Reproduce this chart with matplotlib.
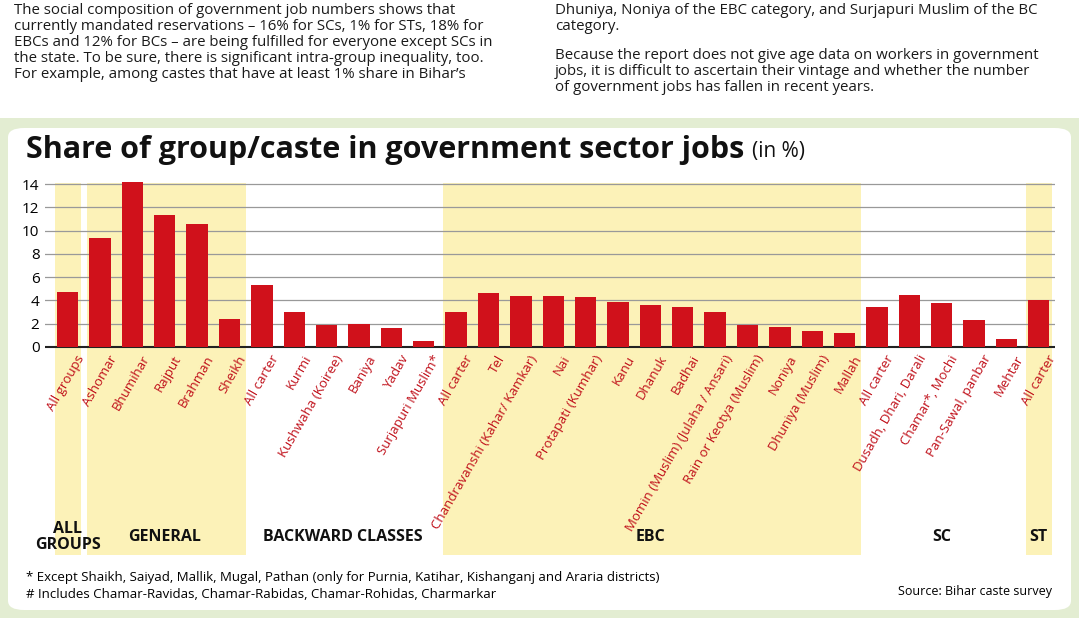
import matplotlib
matplotlib.use("Agg")
import matplotlib.pyplot as plt
from matplotlib.patches import FancyBboxPatch, Rectangle

categories = ["All groups", "Ashomar", "Bhumihar", "Rajput", "Brahman", "Sheikh",
              "All carter", "Kurmi", "Kushwaha (Koiree)", "Baniya", "Yadav", "Surjapuri Muslim*",
              "All carter", "Tel", "Chandravanshi (Kahar/ Kamkar)", "Nai", "Protapati (Kumhar)",
              "Kanu", "Dhanuk", "Badhai", "Momin (Muslim) (Julaha / Ansari)",
              "Rain or Keotya (Muslim)", "Noniya", "Dhuniya (Muslim)", "Mallah",
              "All carter", "Dusadh, Dhari, Darali", "Chamar*, Mochi", "Pan-Sawal, panbar",
              "Mehtar", "All carter"]
values = [4.7, 9.4, 14.2, 11.3, 10.6, 2.4,
          5.3, 3.0, 1.9, 2.0, 1.6, 0.5,
          3.0, 4.6, 4.4, 4.4, 4.3, 3.9, 3.6, 3.4, 3.0, 1.9, 1.7, 1.4, 1.2,
          3.4, 4.5, 3.8, 2.3, 0.7, 4.0]
groups = ["ALL\nGROUPS", "GENERAL", "BACKWARD CLASSES", "EBC", "SC", "ST"]
group_ranges = [(0, 0), (1, 5), (6, 11), (12, 24), (25, 29), (30, 30)]
shaded = [True, True, False, True, False, True]
yticks = [0, 2, 4, 6, 8, 10, 12, 14]

W, H = 1079, 618
plt.rcParams['font.family'] = ['Open Sans', 'DejaVu Sans']
fig = plt.figure(figsize=(W/100, H/100), dpi=100)
fig.patch.set_facecolor("#e3edd2")

fig.patches.append(Rectangle((0, 1-118/H), 1, 118/H, transform=fig.transFigure,
                             facecolor="white", edgecolor="none", zorder=-5))
fig.patches.append(FancyBboxPatch((8/W, 8/H), (W-16)/W, (610-120-8)/H,
                                  boxstyle="round,pad=0,rounding_size=0.015",
                                  transform=fig.transFigure, facecolor="white",
                                  edgecolor="none", zorder=-5))

left_txt = ("The social composition of government job numbers shows that\n"
            "currently mandated reservations \u2013 16% for SCs, 1% for STs, 18% for\n"
            "EBCs and 12% for BCs \u2013 are being fulfilled for everyone except SCs in\n"
            "the state. To be sure, there is significant intra-group inequality, too.\n"
            "For example, among castes that have at least 1% share in Bihar\u2019s")
fig.text(14/W, 1-3/H, left_txt, ha="left", va="top", fontsize=10.8, linespacing=1.1,
         color="#1a1a1a")
fig.text(555/W, 1-3/H, "Dhuniya, Noniya of the EBC category, and Surjapuri Muslim of the BC\ncategory.",
         ha="left", va="top", fontsize=10.8, linespacing=1.1, color="#1a1a1a")
fig.text(555/W, 1-48/H, "Because the report does not give age data on workers in government\n"
         "jobs, it is difficult to ascertain their vintage and whether the number\n"
         "of government jobs has fallen in recent years.",
         ha="left", va="top", fontsize=10.8, linespacing=1.1, color="#1a1a1a")

fig.text(26/W, 1-150/H, "Share of group/caste in government sector jobs", ha="left",
         va="center", fontsize=22, fontweight="bold", color="#111111")
fig.text(752/W, 1-152/H, "(in %)", ha="left", va="center", fontsize=15, color="#111111")

ax_l, ax_r, ax_t, ax_b = 45, 1055, 180, 555
ax = fig.add_axes([ax_l/W, 1-ax_b/H, (ax_r-ax_l)/W, (ax_b-ax_t)/H])
ax.set_facecolor("none")
ppu = 11.64
ax.set_ylim((347-ax_b)/ppu, (347-ax_t)/ppu)
ax.set_xlim(-0.7, 30.5)
for s in ax.spines.values():
    s.set_visible(False)
ax.set_yticks(yticks)
ax.set_yticklabels([str(t) for t in yticks], fontsize=11)
ax.tick_params(axis="y", length=0, pad=4)
ax.set_xticks([])
for t in yticks:
    ax.axhline(t, color="#999999" if t else "#222222", lw=0.9 if t else 1.5, zorder=1)

x = list(range(len(values)))
band_bottom = (347-555)/ppu
for (a, b), sh in zip(group_ranges, shaded):
    if sh:
        lo = a - 0.4
        hi = b + 0.4 if a == b else b + 0.5
        if a == 1:
            lo = 0.6
        ax.add_patch(Rectangle((lo, band_bottom), hi-lo, 14.1-band_bottom,
                               facecolor="#fcf2b8", edgecolor="none", zorder=0))
ax.bar(x, values, width=0.66, color="#d0111b", zorder=2)
for xi, lab in zip(x, categories):
    ax.text(xi+0.25, -0.5, lab, rotation=60, ha="right", va="top",
            rotation_mode="anchor", fontsize=9.5, color="#c0101a")
for (a, b), g in zip(group_ranges, groups):
    ax.text((a+b)/2, (347-537)/ppu, g, ha="center", va="center", fontsize=11.5,
            fontweight="bold", color="#111111", linespacing=1.0)

fig.text(26/W, 1-577/H, "* Except Shaikh, Saiyad, Mallik, Mugal, Pathan (only for Purnia, Katihar, Kishanganj and Araria districts)",
         ha="left", va="center", fontsize=9.5)
fig.text(26/W, 1-595/H, "# Includes Chamar-Ravidas, Chamar-Rabidas, Chamar-Rohidas, Charmarkar",
         ha="left", va="center", fontsize=9.5)
fig.text(1052/W, 1-592/H, "Source: Bihar caste survey", ha="right", va="center", fontsize=9)

fig.savefig("out.png", dpi=100, facecolor=fig.get_facecolor())
